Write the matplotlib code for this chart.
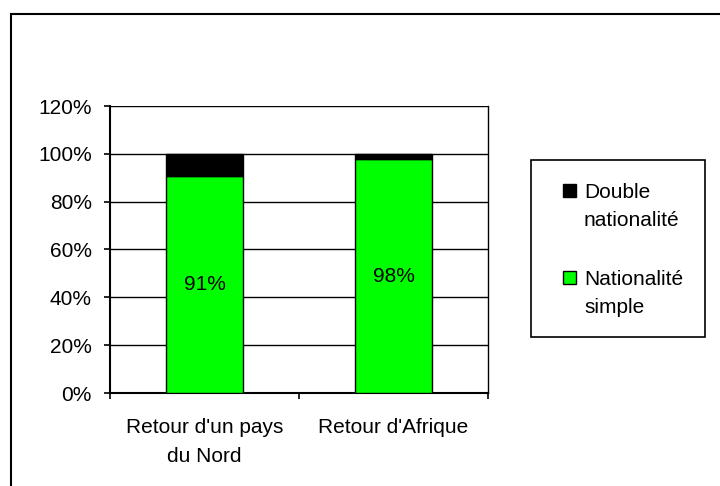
import matplotlib.pyplot as plt
from matplotlib.patches import Rectangle
from matplotlib.ticker import FuncFormatter

categories = ["Retour d'un pays\ndu Nord", "Retour d'Afrique"]
simple = [90.6, 97.8]
double = [9.4, 2.2]
series_names = ["Double\nnationalité", "Nationalité\nsimple"]
series_colors = ["black", "#00ff00"]

plt.rcParams['font.family'] = ['Liberation Sans', 'DejaVu Sans']
plt.rcParams['font.size'] = 15

W, H = 720, 486
fig = plt.figure(figsize=(W / 100, H / 100), dpi=100)


def fx(px):
    return px / W


def fy(py):
    return 1 - py / H


# outer chart border (cut off on right/bottom like the reference)
fig.patches.append(Rectangle((fx(11), -0.1), 1.2, fy(14) + 0.1,
                             transform=fig.transFigure, fill=False,
                             edgecolor='black', linewidth=1.5))

ax = fig.add_axes([fx(110), fy(393), fx(488 - 110), (393 - 106) / H])
x = [0, 1]
ax.bar(x, simple, width=0.41, color=series_colors[1], edgecolor='black',
       linewidth=1, zorder=3)
ax.bar(x, double, bottom=simple, width=0.41, color=series_colors[0],
       edgecolor='black', linewidth=1, zorder=3)

for xi, v in zip(x, simple):
    ax.text(xi, v / 2, f"{v:.0f}%", ha='center', va='center', zorder=4)

ax.set_xlim(-0.5, 1.5)
ax.set_ylim(0, 120)
ax.set_yticks(range(0, 121, 20))
ax.yaxis.set_major_formatter(FuncFormatter(lambda v, p: f"{v:.0f}%"))
ax.set_xticks(x)
ax.set_xticklabels(categories, linespacing=1.65)
ax.set_xticks([-0.5, 0.5, 1.5], minor=True)
ax.tick_params(axis='x', which='major', length=0, pad=18)
ax.tick_params(axis='x', which='minor', length=4, direction='out', width=1.2)
ax.tick_params(axis='y', length=4, direction='out', width=1.2, pad=9)
ax.grid(axis='y', color='black', linewidth=1, zorder=0)
ax.spines['top'].set_visible(False)
ax.spines['left'].set_linewidth(1.5)
ax.spines['bottom'].set_linewidth(1.5)
ax.spines['right'].set_linewidth(1)

# legend box, Excel style: marker aligned with first line of each label
fig.patches.append(Rectangle((fx(531), fy(337)), fx(705 - 531), (337 - 160) / H,
                             transform=fig.transFigure, fill=False,
                             edgecolor='black', linewidth=1.2))
for i, (name, col) in enumerate(zip(series_names, series_colors)):
    top = 184 + i * 87
    fig.patches.append(Rectangle((fx(563), fy(top + 13)), fx(13), 13 / H,
                                 transform=fig.transFigure, facecolor=col,
                                 edgecolor='black', linewidth=1))
    # baseline of the last line of the label
    fig.text(fx(584), fy(top + 14 + 28), name, ha='left', va='baseline',
             linespacing=1.58)

fig.savefig('out.png', dpi=100)
